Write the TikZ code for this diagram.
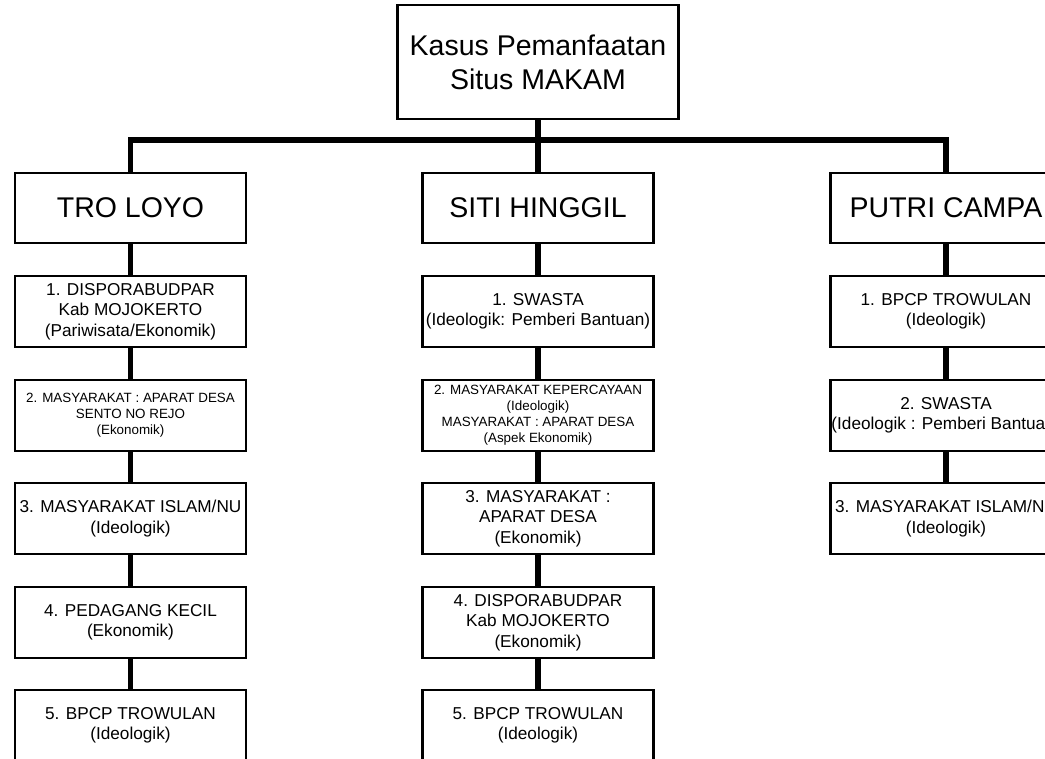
\documentclass[tikz,border=0pt]{standalone}
\usepackage{fontspec}
\setmainfont{Liberation Sans}
\usepackage{tikz}
\usetikzlibrary{positioning}
\tikzset{kotak/.style={ % Sets the properties for each box
			draw,
			line width=2.5pt,
			align=center,
			inner sep=0pt,
			minimum width=231pt,
			minimum height=71pt,
			font=\fontsize{17.2}{20.5}\selectfont},
		kecil/.style={font=\fontsize{13.4}{16}\selectfont},
		judul/.style={font=\fontsize{28.5}{34}\selectfont, minimum height=70pt},
		garis/.style={line width=5.5pt}}

\begin{document}
\begin{tikzpicture}[x=1pt, y=-1pt]
			\useasboundingbox (0,0) rectangle (1045,759);
			\clip (0,0) rectangle (1045,759);
			\node[kotak, judul, minimum width=281pt, minimum height=114pt] (K) at (538,62) {Kasus Pemanfaatan\\Situs MAKAM};
			
			\node[kotak, judul] (T) at (130.5,208) {TRO LOYO};
			\node[kotak, judul] (S) at (538,208) {SITI HINGGIL};
			\node[kotak, judul] (P) at (946,208) {PUTRI CAMPA};
			
			\node[kotak] (T1) at (130.5,311.5) {1. DISPORABUDPAR\\Kab MOJOKERTO\\(Pariwisata/Ekonomik)};
			\node[kotak, kecil] (T2) at (130.5,415.5) {2. MASYARAKAT : APARAT DESA\\SENTO NO REJO\\(Ekonomik)};
			\node[kotak] (T3) at (130.5,518.5) {3. MASYARAKAT ISLAM/NU\\(Ideologik)};
			\node[kotak] (T4) at (130.5,622.5) {4. PEDAGANG KECIL\\(Ekonomik)};
			\node[kotak] (T5) at (130.5,725.5) {5. BPCP TROWULAN\\(Ideologik)};
			
			\node[kotak] (S1) at (538,311.5) {1. SWASTA\\(Ideologik: Pemberi Bantuan)};
			\node[kotak, kecil] (S2) at (538,415.5) {2. MASYARAKAT KEPERCAYAAN\\(Ideologik)\\MASYARAKAT : APARAT DESA\\(Aspek Ekonomik)};
			\node[kotak] (S3) at (538,518.5) {3. MASYARAKAT :\\APARAT DESA\\(Ekonomik)};
			\node[kotak] (S4) at (538,622.5) {4. DISPORABUDPAR\\Kab MOJOKERTO\\(Ekonomik)};
			\node[kotak] (S5) at (538,725.5) {5. BPCP TROWULAN\\(Ideologik)};
			
			\node[kotak] (P1) at (946,311.5) {1. BPCP TROWULAN\\(Ideologik)};
			\node[kotak] (P2) at (946,415.5) {2. SWASTA\\(Ideologik : Pemberi Bantuan)};
			\node[kotak] (P3) at (946,518.5) {3. MASYARAKAT ISLAM/NU\\(Ideologik)};
			
			\coordinate (bar) at (538,140);
			\draw[garis] (T.north) |- (bar) -| (P.north);
			\draw[garis] (K) -- (S);
			
			\draw[garis] (T) -- (T1);
			\draw[garis] (T1) -- (T2);
			\draw[garis] (T2) -- (T3);
			\draw[garis] (T3) -- (T4);
			\draw[garis] (T4) -- (T5);
			\draw[garis] (S) -- (S1);
			\draw[garis] (S1) -- (S2);
			\draw[garis] (S2) -- (S3);
			\draw[garis] (S3) -- (S4);
			\draw[garis] (S4) -- (S5);
			\draw[garis] (P) -- (P1);
			\draw[garis] (P1) -- (P2);
			\draw[garis] (P2) -- (P3);
		\end{tikzpicture}
\end{document}
